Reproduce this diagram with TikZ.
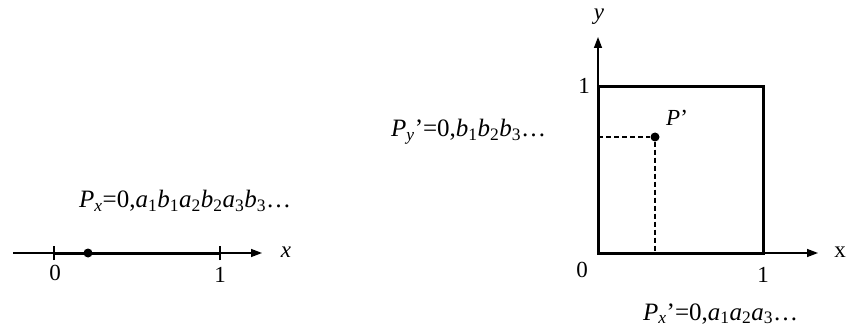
\documentclass[tikz,border=0pt]{standalone}
\usepackage{fontspec}
\setmainfont{Liberation Serif}
\usetikzlibrary{arrows.meta}
\newcommand{\ssub}[1]{\textsubscript{#1}}
\begin{document}
\begin{tikzpicture}[x=1pt,y=-1pt,
  font=\fontsize{23}{26}\selectfont,
  axis/.style={line width=1.4pt,-{Triangle[length=11pt,width=8pt]}},
  thickline/.style={line width=3pt},
  tickline/.style={line width=1.4pt},
  guide/.style={line width=1.4pt,dash pattern=on 5pt off 3pt},
  dotpt/.style={circle,fill=black,inner sep=0pt,minimum size=9pt},
  lbl/.style={inner sep=0pt},
  biglbl/.style={inner sep=0pt,anchor=base west,font=\fontsize{25}{28}\selectfont}]
\useasboundingbox (0,0) rectangle (846,331);
% ---- left: unit interval
\coordinate (L0) at (13,253);
\coordinate (Lend) at (262,253);
\coordinate (T0) at (54,253);
\coordinate (T1) at (220,253);
\draw[axis] (L0) -- (Lend);
\draw[thickline] (T0) -- (T1);
\draw[tickline] ([yshift=-7pt]T0) -- ([yshift=7pt]T0);
\draw[tickline] ([yshift=-7pt]T1) -- ([yshift=7pt]T1);
\node[dotpt] (Px) at (88,253) {};
\node[lbl] (l0) at (55,273) {0};
\node[lbl] (l1) at (220,275) {1};
\node[lbl] (lx) at (286,252) {\textit{x}};
\node[biglbl] (pxlab) at (79,208)
  {\textit{P}\ssub{\textit{x}}=0,\textit{a}\ssub{1}\textit{b}\ssub{1}\textit{a}\ssub{2}\textit{b}\ssub{2}\textit{a}\ssub{3}\textit{b}\ssub{3}\ldots};
% ---- right: unit square
\coordinate (O) at (598,253);
\coordinate (Yend) at (598,37);
\coordinate (Xend) at (818,253);
\coordinate (S11) at (763,87);
\draw[axis] (O) -- (Yend);
\draw[axis] (O) -- (Xend);
\draw[thickline] (O) rectangle (S11);
\node[dotpt] (Pp) at (655,137) {};
\coordinate (Py) at (598,137);
\coordinate (Pxx) at (655,253);
\draw[guide] (Py) -- (Pp);
\draw[guide] (Pp) -- (Pxx);
\node[lbl] (ry) at (599,17) {\textit{y}};
\node[lbl] (r1y) at (584,86) {1};
\node[lbl] (r0) at (582,270) {0};
\node[lbl] (r1x) at (763,275) {1};
\node[lbl] (rx) at (840,252) {x};
\node[lbl,anchor=base west] (pplab) at (666,126) {\textit{P}’};
\node[biglbl] (pylab) at (391,137)
  {\textit{P}\ssub{\textit{y}}’=0,\textit{b}\ssub{1}\textit{b}\ssub{2}\textit{b}\ssub{3}\ldots};
\node[biglbl] (pxplab) at (643,320)
  {\textit{P}\ssub{\textit{x}}’=0,\textit{a}\ssub{1}\textit{a}\ssub{2}\textit{a}\ssub{3}\ldots};
\end{tikzpicture}
\end{document}
